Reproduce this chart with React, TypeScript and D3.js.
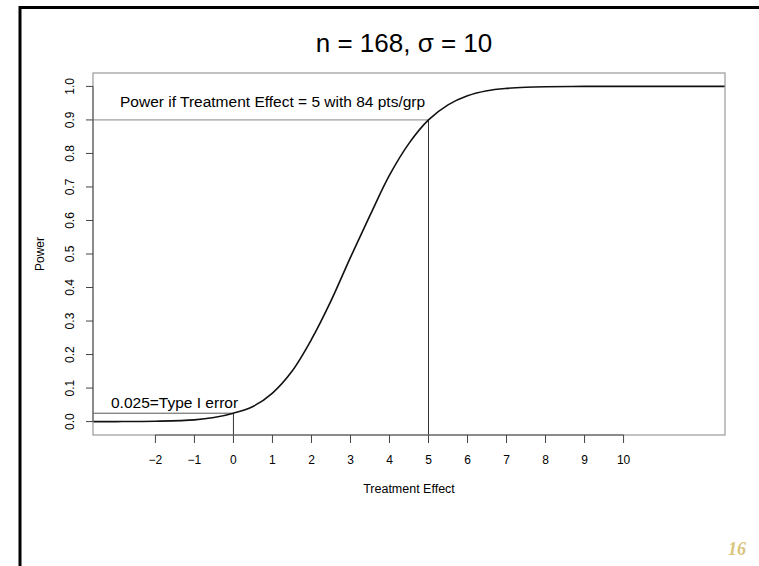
import React from "react";
import * as d3 from "d3";

const title = "n = 168, σ = 10";
const xTicks = [-2, -1, 0, 1, 2, 3, 4, 5, 6, 7, 8, 9, 10];
const yTicks = [0, 0.1, 0.2, 0.3, 0.4, 0.5, 0.6, 0.7, 0.8, 0.9, 1.0];
const effect = [-3.6, -3, -2, -1, -0.5, 0, 0.5, 1, 1.5, 2, 2.5, 3, 3.5, 4, 4.5, 5, 5.5, 6, 6.5, 7, 7.5, 8, 9, 10, 11, 12.6];
const power = [0.0, 0.0, 0.001, 0.005, 0.012, 0.025, 0.045, 0.085, 0.15, 0.245, 0.36, 0.49, 0.615, 0.735, 0.83, 0.9, 0.945, 0.972, 0.987, 0.994, 0.9975, 0.999, 1.0, 1.0, 1.0, 1.0];
const typeIError = { x: 0, y: 0.025, label: "0.025=Type I error" };
const target = { x: 5, y: 0.9, label: "Power if Treatment Effect = 5 with 84 pts/grp" };

export default function App() {
  const W = 759, H = 566;
  const left = 93, right = 725, top = 73, bottom = 435;
  const x = d3.scaleLinear().domain([-3.6, 12.6]).range([left, right]);
  const y = d3.scaleLinear().domain([-0.04, 1.04]).range([bottom, top]);
  const pts = effect.map((e, i) => [e, power[i]] as [number, number]);
  const line = d3.line<[number, number]>().x(d => x(d[0])).y(d => y(d[1])).curve(d3.curveCatmullRom.alpha(0.5));
  const font = "'Liberation Sans', Arial, Helvetica, sans-serif";
  return (
    <svg width={W} height={H} style={{ position: "absolute", left: 0, top: 0, background: "#fff" }} fontFamily={font}>
      <rect x={0} y={0} width={W} height={H} fill="#fff" />
      {/* slide frame */}
      <line x1={19} x2={W} y1={7.5} y2={7.5} stroke="#000" strokeWidth={3} />
      <line x1={20} x2={20} y1={6} y2={H} stroke="#000" strokeWidth={3} />
      <text x={404} y={52} textAnchor="middle" fontSize={26} fill="#000">{title}</text>
      <defs>
        <clipPath id="plotclip"><rect x={left} y={top} width={right - left} height={bottom - top} /></clipPath>
      </defs>
      <g clipPath="url(#plotclip)">
        <line x1={left} x2={x(target.x)} y1={y(target.y)} y2={y(target.y)} stroke="#888" strokeWidth={1} />
        <line x1={x(target.x)} x2={x(target.x)} y1={y(target.y)} y2={bottom} stroke="#333" strokeWidth={1} />
        <line x1={left} x2={x(typeIError.x)} y1={y(typeIError.y)} y2={y(typeIError.y)} stroke="#555" strokeWidth={1} />
        <line x1={x(typeIError.x)} x2={x(typeIError.x)} y1={y(typeIError.y)} y2={bottom} stroke="#333" strokeWidth={1} />
        <path d={line(pts) || ""} fill="none" stroke="#111" strokeWidth={1.6} />
      </g>
      <rect x={left} y={top} width={right - left} height={bottom - top} fill="none" stroke="#999" strokeWidth={1.2} />
      {/* x axis */}
      <line x1={x(xTicks[0])} x2={x(xTicks[xTicks.length - 1])} y1={bottom} y2={bottom} stroke="#555" />
      {xTicks.map(t => (
        <g key={t}>
          <line x1={x(t)} x2={x(t)} y1={bottom} y2={bottom + 8} stroke="#444" />
          <text x={x(t)} y={464} textAnchor="middle" fontSize={12} fill="#000">{t < 0 ? "\u2212" + Math.abs(t) : String(t)}</text>
        </g>
      ))}
      <text x={409} y={493} textAnchor="middle" fontSize={12.5} fill="#000">Treatment Effect</text>
      {/* y axis */}
      <line x1={left} x2={left} y1={y(0)} y2={y(1)} stroke="#555" />
      {yTicks.map(t => (
        <g key={t}>
          <line x1={left - 7} x2={left} y1={y(t)} y2={y(t)} stroke="#444" />
          <text transform={`translate(${74},${y(t)}) rotate(-90)`} textAnchor="middle" fontSize={12} fill="#000">{t.toFixed(1)}</text>
        </g>
      ))}
      <text transform={`translate(${44},${(top + bottom) / 2}) rotate(-90)`} textAnchor="middle" fontSize={12} fill="#000">Power</text>
      {/* annotations */}
      <text x={120} y={107} fontSize={15.5} fill="#000">{target.label}</text>
      <text x={111} y={408} fontSize={15.5} fill="#000">{typeIError.label}</text>
      <text x={746} y={555} textAnchor="end" fontSize={18} fontStyle="italic" fontWeight="bold" fontFamily="'Liberation Serif', 'Times New Roman', serif" fill="#d8c47c">16</text>
    </svg>
  );
}
